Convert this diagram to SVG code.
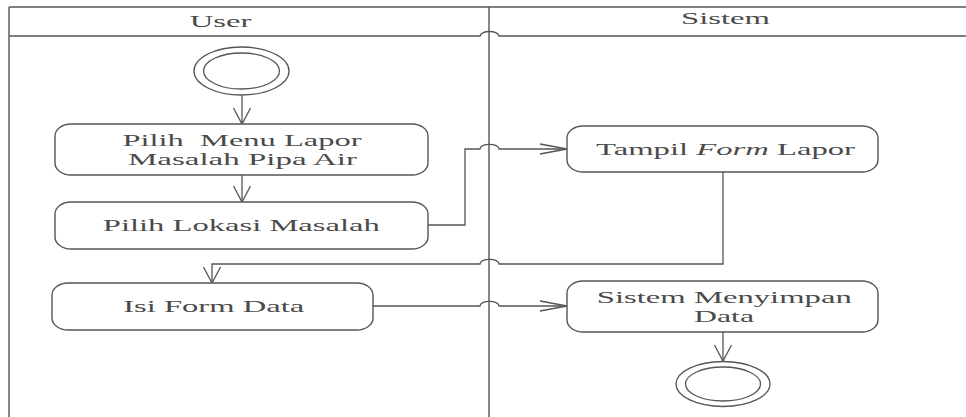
<svg xmlns="http://www.w3.org/2000/svg" width="966" height="417" viewBox="0 0 966 417">
<style>
  .bg{fill:#ffffff}
  .lane{fill:none;stroke:#555;stroke-width:1.4}
  .node{fill:#ffffff;stroke:#555;stroke-width:1.4}
  .ring{fill:none;stroke:#555;stroke-width:1.3}
  .edge{fill:none;stroke:#555;stroke-width:1.3}
  .t{font-family:"Liberation Serif","Times New Roman",serif;font-size:16.5px;fill:#4a4a4a;text-anchor:middle;white-space:pre}
  .it{font-style:italic}
</style>
<defs>
  <marker id="ah" markerUnits="userSpaceOnUse" markerWidth="30" markerHeight="12" refX="27" refY="5" orient="auto" overflow="visible">
    <path d="M0,0 L27,5 L0,10" fill="none" stroke="#555" stroke-width="1.3"/>
  </marker>
  <marker id="av" markerUnits="userSpaceOnUse" markerWidth="18" markerHeight="20" refX="16" refY="8.5" orient="auto" overflow="visible">
    <path d="M0,0 L16,8.5 L0,17" fill="none" stroke="#555" stroke-width="1.3"/>
  </marker>
</defs>
<rect class="bg" x="0" y="0" width="966" height="417"/>

<g id="swimlanes">
  <line class="lane" x1="9" y1="7" x2="966" y2="7"/>
  <path class="lane" d="M9 36 H480 A9.5 4.5 0 0 1 499 36 H966"/>
  <line class="lane" x1="9" y1="7" x2="9" y2="417" stroke-width="2"/>
  <line class="lane" x1="489" y1="7" x2="489" y2="417"/>
  <text class="t" x="220.6" y="27" textLength="61.6" lengthAdjust="spacingAndGlyphs">User</text>
  <text class="t" x="725.5" y="24" textLength="89" lengthAdjust="spacingAndGlyphs">Sistem</text>
</g>

<g id="connectors">
  <line class="edge" x1="242" y1="95" x2="242" y2="124" marker-end="url(#av)"/>
  <line class="edge" x1="242" y1="175" x2="242" y2="202" marker-end="url(#av)"/>
  <path class="edge" d="M428 225 H465 V149 H480 A9.5 4.7 0 0 1 499 149 H567" marker-end="url(#ah)"/>
  <path class="edge" d="M723 172 V264 H499 A9.5 4.7 0 0 0 480 264 H212 V283" marker-end="url(#av)"/>
  <path class="edge" d="M373 306 H480 A9.5 4.7 0 0 1 499 306 H567" marker-end="url(#ah)"/>
  <line class="edge" x1="723" y1="332" x2="723" y2="361" marker-end="url(#av)"/>
</g>

<g id="start">
  <ellipse class="ring" cx="241.5" cy="71" rx="47.5" ry="24"/>
  <ellipse class="ring" cx="241.5" cy="71" rx="38" ry="18"/>
</g>

<g id="pilih-menu">
  <rect class="node" x="55" y="124" width="373" height="51" rx="16" ry="12"/>
  <text class="t" x="242" y="145.5" textLength="239" lengthAdjust="spacingAndGlyphs">Pilih  Menu Lapor</text>
  <text class="t" x="242.5" y="165" textLength="229" lengthAdjust="spacingAndGlyphs">Masalah Pipa Air</text>
</g>

<g id="pilih-lokasi">
  <rect class="node" x="55" y="202" width="373" height="47" rx="16" ry="12"/>
  <text class="t" x="241.3" y="231" textLength="277" lengthAdjust="spacingAndGlyphs">Pilih Lokasi Masalah</text>
</g>

<g id="tampil-form">
  <rect class="node" x="567" y="126" width="311" height="46" rx="16" ry="12"/>
  <text class="t" x="725.5" y="155" textLength="259" lengthAdjust="spacingAndGlyphs">Tampil <tspan class="it">Form</tspan> Lapor</text>
</g>

<g id="isi-form">
  <rect class="node" x="52" y="283" width="321" height="47" rx="16" ry="12"/>
  <text class="t" x="213.7" y="312" textLength="181" lengthAdjust="spacingAndGlyphs">Isi Form Data</text>
</g>

<g id="simpan-data">
  <rect class="node" x="567" y="281" width="311" height="51" rx="16" ry="12"/>
  <text class="t" x="724.3" y="302.5" textLength="255" lengthAdjust="spacingAndGlyphs">Sistem Menyimpan</text>
  <text class="t" x="724" y="322" textLength="60" lengthAdjust="spacingAndGlyphs">Data</text>
</g>

<g id="end">
  <ellipse class="ring" cx="723" cy="384" rx="47" ry="22.5"/>
  <ellipse class="ring" cx="723" cy="384" rx="37.5" ry="17"/>
</g>
</svg>
